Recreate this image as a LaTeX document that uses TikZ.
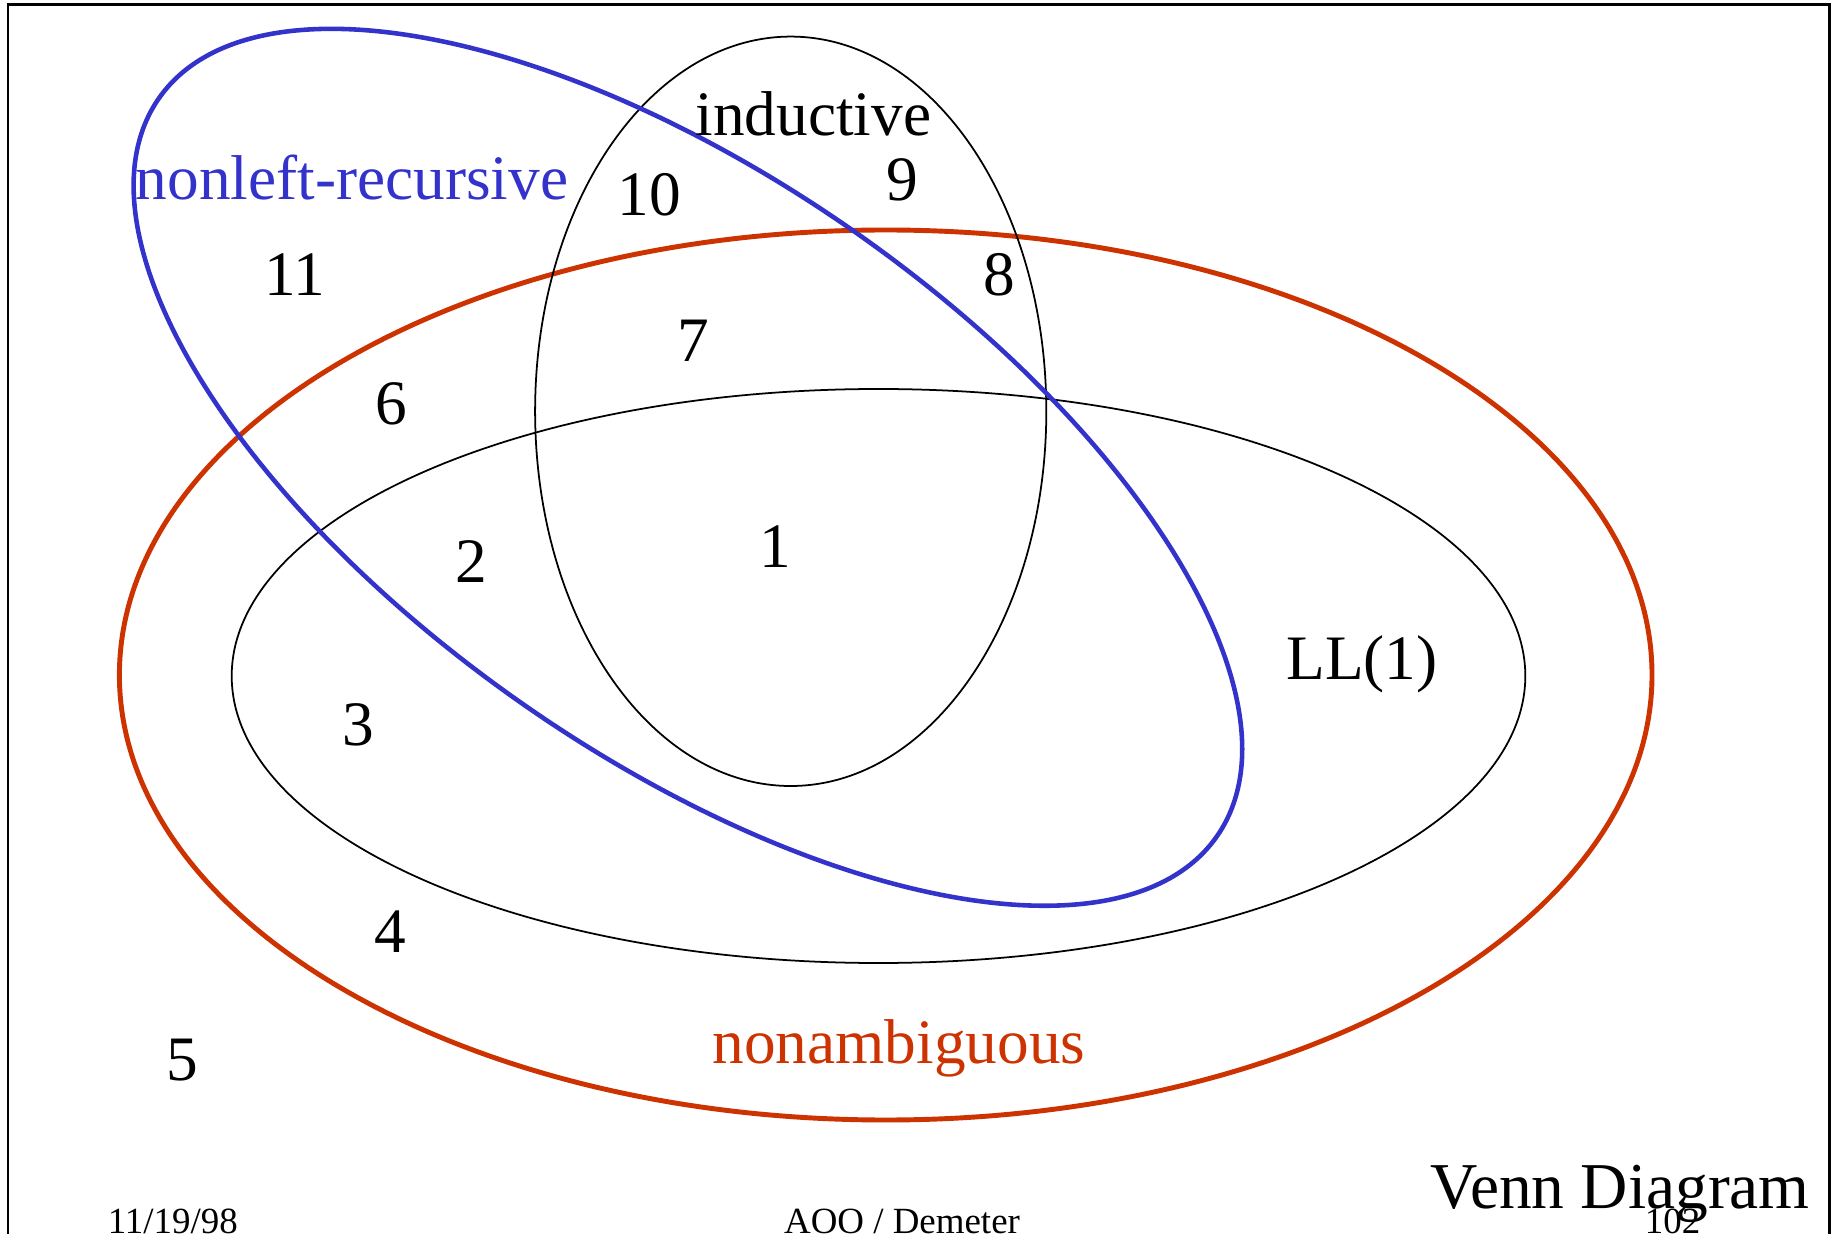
\documentclass[tikz,border=0pt]{standalone}
\usepackage{fontspec}
\setmainfont{Liberation Serif}
\definecolor{setblue}{HTML}{3333CC}
\definecolor{setred}{HTML}{CC3300}
\tikzset{
  lbl/.style={anchor=base, inner sep=0pt, font=\fontsize{18}{21}\selectfont},
  foot/.style={anchor=base, inner sep=0pt, font=\fontsize{10.5}{12}\selectfont},
  thinset/.style={draw=black, line width=0.5pt},
  redset/.style={draw=setred, line width=1.4pt},
  blueset/.style={draw=setblue, line width=1.3pt},
}
\begin{document}
\begin{tikzpicture}[x=0.01cm, y=0.01cm]
\useasboundingbox (0,0) rectangle (1837,1233);
% frame
\draw[line width=0.85pt] (8,-10) -- (8,1228) -- (1829,1228) -- (1829,-10);

% sets
\draw[redset] (885.7,558) ellipse [x radius=766.3, y radius=445];
\draw[thinset] (878.5,557) ellipse [x radius=646.8, y radius=287];
\draw[thinset] (790.7,821.7) ellipse [x radius=255.6, y radius=374.7];
\draw[blueset, rotate around={-34.9:(687.9,765.7)}] (687.9,765.7) ellipse [x radius=645, y radius=288.6];

% set names
\node[lbl] (ind) at (813.5,1097) {inductive};
\node[lbl, text=setblue] (nlr) at (352,1033) {nonleft-recursive};
\node[lbl] (ll) at (1362,553) {LL(1)};
\node[lbl, text=setred] (namb) at (899,169.7) {nonambiguous};

% region numbers
\node[lbl] (r1) at (775,665) {1};
\node[lbl] (r2) at (471,650) {2};
\node[lbl] (r3) at (358,488) {3};
\node[lbl] (r4) at (390,281) {4};
\node[lbl] (r5) at (182,153) {5};
\node[lbl] (r6) at (391,808) {6};
\node[lbl] (r7) at (693,871.3) {7};
\node[lbl] (r8) at (999,937.3) {8};
\node[lbl] (r9) at (902.5,1032) {9};
\node[lbl] (r10) at (649.5,1017) {10};
\node[lbl] (r11) at (294.5,937) {11};

% title and footer
\node[lbl, font=\fontsize{18.6}{22}\selectfont] (title) at (1620,25) {Venn Diagram};
\node[foot] (date) at (172.8,0) {11/19/98};
\node[foot] (mid) at (902,0) {AOO / Demeter};
\node[foot] (page) at (1672.5,0) {102};
\end{tikzpicture}
\end{document}
